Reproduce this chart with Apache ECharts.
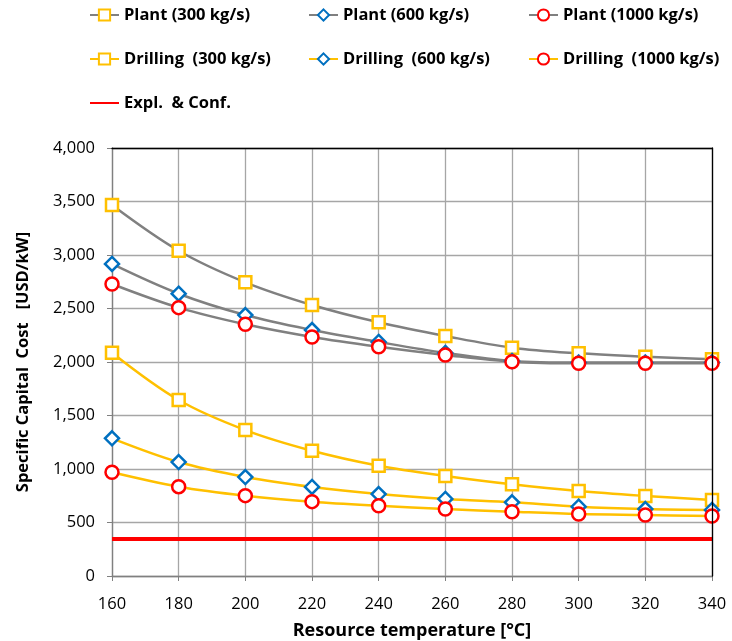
<!DOCTYPE html>
<html>
<head>
<meta charset="utf-8">
<script src="https://cdn.jsdelivr.net/npm/echarts@6/dist/echarts.min.js"></script>
<style>
html,body{margin:0;padding:0;background:#fff;}
#chart{width:732px;height:641px;}
</style>
</head>
<body>
<div id="chart"></div>
<script>
var temperatures = [160, 180, 200, 220, 240, 260, 280, 300, 320, 340];
var plant300 = [3467, 3040, 2745, 2533, 2371, 2243, 2134, 2081, 2050, 2025];
var plant600 = [2916, 2638, 2439, 2299, 2187, 2085, 2010, 1995, 1995, 1995];
var plant1000 = [2729, 2508, 2352, 2234, 2143, 2066, 2003, 1988, 1988, 1988];
var drilling300 = [2087, 1645, 1364, 1171, 1031, 935, 857, 794, 748, 710];
var drilling600 = [1287, 1065, 925, 832, 766, 720, 689, 648, 626, 617];
var drilling1000 = [969, 835, 751, 695, 657, 626, 601, 579, 570, 561];
var explConf = [345, 345, 345, 345, 345, 345, 345, 345, 345, 345];
var seriesNames = ['Plant (300 kg/s)', 'Plant (600 kg/s)', 'Plant (1000 kg/s)',
  'Drilling  (300 kg/s)', 'Drilling  (600 kg/s)', 'Drilling  (1000 kg/s)', 'Expl.  & Conf.'];
var xAxisTitle = 'Resource temperature [°C]';
var yAxisTitle = 'Specific Capital  Cost   [USD/kW]';

function pairs(vals){ return temperatures.map(function(t,i){ return [t, vals[i]]; }); }

var FONT = '"Open Sans", Lato, sans-serif';
var GRAY = '#808080', YEL = '#FFC000', BLUE = '#0070C0', RED = '#FF0000';

function mk(name, vals, lineColor, sym, symColor, symSize){
  return {
    name: name, type: 'line', data: pairs(vals), smooth: 0.35,
    symbol: sym, symbolSize: symSize, showAllSymbol: true,
    lineStyle: {color: lineColor, width: 2.5},
    itemStyle: {color: '#fff', borderColor: symColor, borderWidth: 2.5},
    emphasis: {disabled: true}, z: 3
  };
}

var chart = echarts.init(document.getElementById('chart'), null, {renderer: 'canvas'});
var legendText = {fontFamily: FONT, fontWeight: 'bold', fontSize: 16.5, lineHeight: 20, color: '#000'};
function lg(items, left){
  return {data: items, orient: 'vertical', left: left, top: 5, itemGap: 24, padding: 0,
    itemWidth: 29, itemHeight: 14, textStyle: legendText, selectedMode: false};
}
var frameAxis = {show: true, z: 10, axisLine: {show: true, onZero: false, lineStyle: {color: '#000', width: 1.3}},
  axisTick: {show: false}, axisLabel: {show: false}, splitLine: {show: false}};
chart.setOption({
  animation: false,
  legend: [
    lg([seriesNames[0], seriesNames[3], {name: seriesNames[6], itemStyle: {opacity: 0}}], 89),
    lg([seriesNames[1], seriesNames[4]], 308),
    lg([seriesNames[2], seriesNames[5]], 528)
  ],
  grid: {left: 112, right: 20, top: 148, bottom: 65, outerBoundsMode: 'none'},
  xAxis: [{
    type: 'value', min: 160, max: 340, interval: 20,
    name: xAxisTitle, nameLocation: 'middle', nameGap: 46,
    nameTextStyle: {fontFamily: FONT, fontWeight: 'bold', fontSize: 18, color: '#000'},
    axisLine: {lineStyle: {color: GRAY, width: 1.3}},
    axisTick: {show: true, length: 5, lineStyle: {color: GRAY}},
    axisLabel: {fontFamily: FONT, fontSize: 16.5, color: '#000', margin: 20},
    splitLine: {show: true, lineStyle: {color: '#a6a6a6', width: 1.3}}
  }, Object.assign({type: 'value', position: 'top', min: 160, max: 340, interval: 20}, frameAxis)],
  yAxis: [{
    type: 'value', min: 0, max: 4000, interval: 500,
    name: yAxisTitle, nameLocation: 'middle', nameGap: 80,
    nameTextStyle: {fontFamily: FONT, fontWeight: 'bold', fontSize: 16.5, color: '#000'},
    axisLine: {show: true, lineStyle: {color: GRAY, width: 1.3}},
    axisTick: {show: true, length: 5, lineStyle: {color: GRAY}},
    axisLabel: {fontFamily: FONT, fontSize: 16.5, color: '#000', margin: 17,
      formatter: function(v){ return v.toLocaleString('en-US'); }},
    splitLine: {show: true, lineStyle: {color: '#a6a6a6', width: 1.3}}
  }, Object.assign({type: 'value', position: 'right', min: 0, max: 4000, interval: 500}, frameAxis)],
  series: [
    mk(seriesNames[0], plant300, GRAY, 'rect', YEL, 12),
    mk(seriesNames[1], plant600, GRAY, 'diamond', BLUE, 14),
    mk(seriesNames[2], plant1000, GRAY, 'circle', RED, 13),
    mk(seriesNames[3], drilling300, YEL, 'rect', YEL, 12),
    mk(seriesNames[4], drilling600, YEL, 'diamond', BLUE, 14),
    mk(seriesNames[5], drilling1000, YEL, 'circle', RED, 13),
    {name: seriesNames[6], type: 'line', data: pairs(explConf), symbol: 'none', showSymbol: false,
      lineStyle: {color: RED, width: 4}, itemStyle: {color: RED}, emphasis: {disabled: true}, z: 2}
  ]
});
</script>
</body>
</html>
